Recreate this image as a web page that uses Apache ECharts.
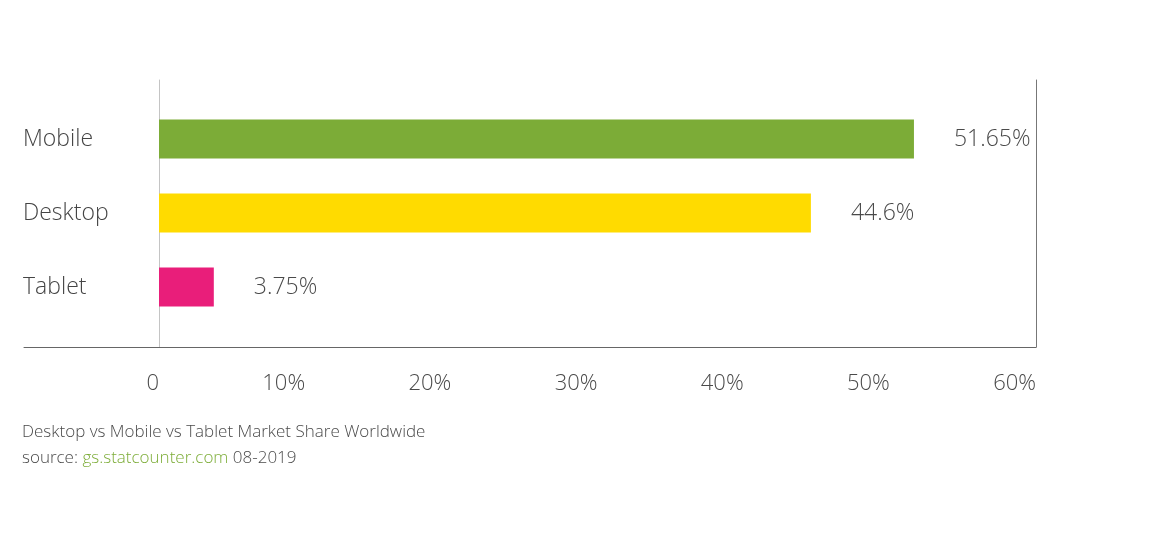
<!DOCTYPE html>
<html>
<head>
<meta charset="utf-8">
<script src="https://cdn.jsdelivr.net/npm/echarts@6/dist/echarts.min.js"></script>
<style>
  html, body { margin: 0; padding: 0; background: #fff; }
  #main { width: 1149px; height: 540px; }
</style>
</head>
<body>
<div id="main"></div>
<script>
// platforms and their worldwide share (%), 08-2019
var platforms = ['Mobile', 'Desktop', 'Tablet'];
var shareValues = [51.65, 44.6, 3.75];
var barColors = ['#7cac37', '#ffdb00', '#e91e7a'];
var tickValues = [0, 10, 20, 30, 40, 50, 60];

var fontFamily = '"Open Sans", "Noto Sans", sans-serif';

var myChart = echarts.init(document.getElementById('main'));

var option = {
    animation: false,
    backgroundColor: '#fff',
    title: {
        left: 22,
        top: 419,
        padding: 0,
        text: 'Desktop vs Mobile vs Tablet Market Share Worldwide\nsource: {g|gs.statcounter.com} 08-2019',
        textStyle: {
            fontFamily: fontFamily,
            fontWeight: 300,
            fontSize: 17,
            color: '#4a4a4a',
            lineHeight: 26,
            rich: {
                g: { color: '#7cac37', fontFamily: fontFamily, fontWeight: 300, fontSize: 17 }
            }
        }
    },
    grid: [
        // frame: long bottom line
        { left: 24, right: 113, top: 80, bottom: 193 },
        // value axis with ticks, left & right lines
        { left: 159, right: 113, top: 80, bottom: 193 },
        // bars
        { left: 159, right: 113, top: 102, bottom: 216 }
    ],
    xAxis: [
        {
            gridIndex: 0, type: 'value', min: 0, max: 1,
            axisLine: { show: true, lineStyle: { color: '#666', width: 1 } },
            axisTick: { show: false }, axisLabel: { show: false }, splitLine: { show: false }
        },
        {
            gridIndex: 1, type: 'value', min: 0, max: 60, interval: 10,
            axisLine: { show: false }, axisTick: { show: false }, splitLine: { show: false },
            axisLabel: {
                margin: 26,
                align: 'right',
                fontFamily: fontFamily, fontWeight: 300, fontSize: 22, color: '#4a4a4a',
                customValues: tickValues,
                formatter: function (v) { return v === 0 ? '0' : v + '%'; }
            }
        },
        {
            gridIndex: 2, type: 'value', min: 0, max: 60, show: false
        }
    ],
    yAxis: [
        { gridIndex: 0, type: 'value', show: false },
        {
            gridIndex: 1, type: 'value', position: 'left',
            axisLine: { show: true, onZero: false, lineStyle: { color: '#c4c4c4', width: 1 } },
            axisTick: { show: false }, axisLabel: { show: false }, splitLine: { show: false }
        },
        {
            gridIndex: 1, type: 'value', position: 'right',
            axisLine: { show: true, onZero: false, lineStyle: { color: '#777', width: 1 } },
            axisTick: { show: false }, axisLabel: { show: false }, splitLine: { show: false }
        },
        {
            gridIndex: 2, type: 'category', inverse: true,
            data: platforms,
            axisLine: { show: false }, axisTick: { show: false },
            axisLabel: {
                align: 'left',
                margin: 136,
                fontFamily: fontFamily, fontWeight: 300, fontSize: 23, color: '#444'
            }
        }
    ],
    series: [
        {
            type: 'bar',
            xAxisIndex: 2,
            yAxisIndex: 3,
            barWidth: 39,
            data: shareValues.map(function (v, i) {
                return { value: v, itemStyle: { color: barColors[i] } };
            }),
            label: {
                show: true,
                position: 'right',
                distance: 40,
                fontFamily: fontFamily, fontWeight: 300, fontSize: 23, color: '#4a4a4a',
                formatter: function (p) { return p.value + '%'; }
            }
        }
    ]
};

myChart.setOption(option);
</script>
</body>
</html>
